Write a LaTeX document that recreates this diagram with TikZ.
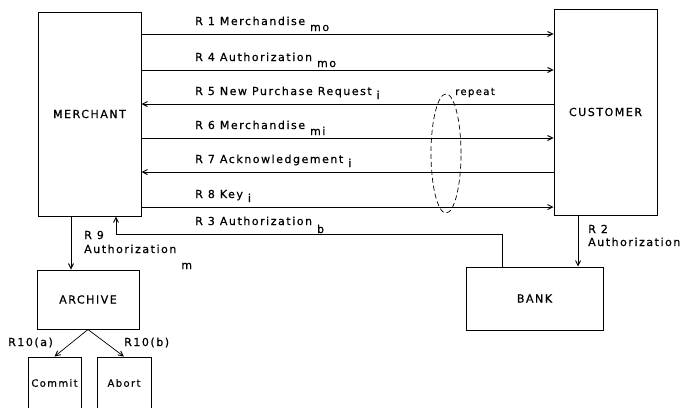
\documentclass[tikz,border=0pt]{standalone}
\usepackage{fontspec}
\setmainfont{DejaVu Sans}[LetterSpace=14, FakeBold=0.6]
\usetikzlibrary{arrows.meta,shapes.geometric}
\newcommand\lowsub[2][6pt]{\hspace{5pt}\raisebox{-#1}{#2}}
\begin{document}
\begin{tikzpicture}[x=1pt,y=-1pt,
  font=\fontsize{11}{13}\selectfont,
  box/.style={draw, line width=1pt, inner sep=0pt, rectangle},
  arr/.style={line width=0.7pt, -{Straight Barb[length=5pt,width=5pt,line width=0.9pt]}},
  lbl/.style={anchor=base west, inner sep=0pt},
  repel/.style={draw, line width=0.7pt, dash pattern=on 5pt off 3pt, ellipse, inner sep=0pt}]
\useasboundingbox (0,0) rectangle (688,407);
\clip (0,0) rectangle (688,407);
% boxes
\node[box, minimum width=103, minimum height=204] (M) at (89.5,114) {MERCHANT};
\node[box, minimum width=103, minimum height=206] (C) at (605.5,112) {CUSTOMER};
\node[box, minimum width=137, minimum height=63] (B) at (534.5,298.5) {BANK};
\node[box, minimum width=102, minimum height=59] (A) at (88,299.5) {ARCHIVE};
\node[box, minimum width=53, minimum height=52, font=\fontsize{10}{12}\selectfont] (Cm) at (54.5,383) {Commit};
\node[box, minimum width=54, minimum height=52, font=\fontsize{10}{12}\selectfont] (Ab) at (124,383) {Abort};
% horizontal messages
\coordinate (y1) at (0,34);
\coordinate (y4) at (0,70);
\coordinate (y5) at (0,104);
\coordinate (y6) at (0,138);
\coordinate (y7) at (0,172);
\coordinate (y8) at (0,207);
\draw[arr] (M.east |- y1) -- (C.west |- y1);
\draw[arr] (M.east |- y4) -- (C.west |- y4);
\draw[arr] (C.west |- y5) -- (M.east |- y5);
\draw[arr] (M.east |- y6) -- (C.west |- y6);
\draw[arr] (C.west |- y7) -- (M.east |- y7);
\draw[arr] (M.east |- y8) -- (C.west |- y8);
\node[lbl] (l1) at (195,25) {R 1 Merchandise\lowsub{mo}};
\node[lbl] (l4) at (195,61) {R 4 Authorization\lowsub{mo}};
\node[lbl] (l5) at (195,95) {R 5 New Purchase Request\lowsub[4pt]{i}};
\node[lbl] (l6) at (195,129) {R 6 Merchandise\lowsub{mi}};
\node[lbl] (l7) at (195,163) {R 7 Acknowledgement\lowsub[4pt]{i}};
\node[lbl] (l8) at (195,198) {R 8 Key\lowsub[4pt]{i}};
% repeat
\node[repel, minimum width=30, minimum height=119] (E) at (446,153.5) {};
\node[lbl, font=\fontsize{10}{12}\selectfont] (rep) at (455,95) {repeat};
% R3 bank to merchant
\coordinate (r3a) at (502,234);
\coordinate (r3b) at (116,234);
\draw[arr] (B.north -| r3a) -- (r3a) -- (r3b) -- (M.south -| r3b);
\node[lbl] (l3) at (195,225) {R 3 Authorization\lowsub[8pt]{b}};
% R2 customer to bank
\coordinate (r2x) at (578,0);
\draw[arr] (C.south -| r2x) -- (B.north -| r2x);
\node[lbl] (l2a) at (588,233) {R 2};
\node[lbl] (l2b) at (588,246) {Authorization};
% R9 merchant to archive
\coordinate (r9x) at (71,0);
\draw[arr] (M.south -| r9x) -- (A.north -| r9x);
\node[lbl] (l9a) at (84,239) {R 9};
\node[lbl] (l9b) at (84,253) {Authorization\lowsub[16pt]{m}};
% R10
\draw[arr] (A.south) -- (Cm.north);
\draw[arr] (A.south) -- (Ab.north);
\node[lbl] (l10a) at (8,346) {R10(a)};
\node[lbl] (l10b) at (124,346) {R10(b)};
\end{tikzpicture}
\end{document}
